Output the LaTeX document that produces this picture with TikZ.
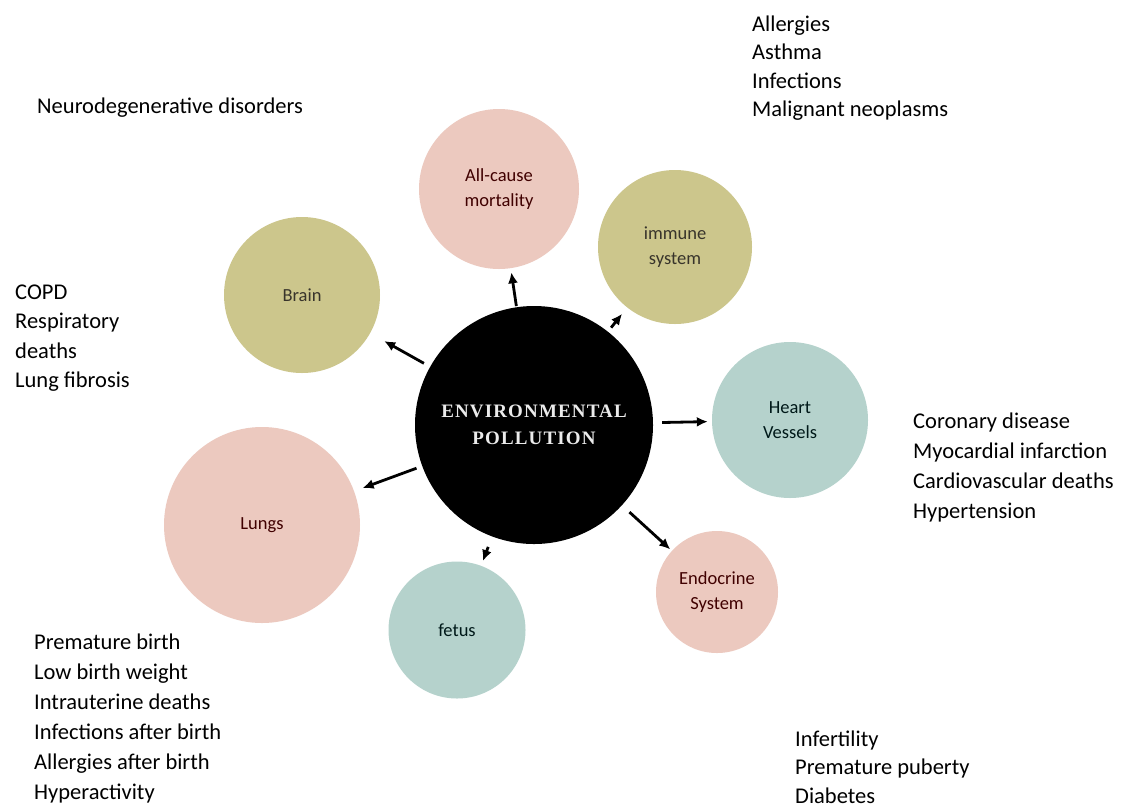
\documentclass[tikz,border=0pt]{standalone}
\usepackage{fontspec}
\setmainfont{Carlito}
\newfontfamily\titlefont[LetterSpace=6]{Liberation Serif}
\usetikzlibrary{arrows.meta, positioning}

\definecolor{organpink}{RGB}{236,201,191}
\definecolor{organolive}{RGB}{204,198,140}
\definecolor{organteal}{RGB}{181,210,204}

\begin{document}
\begin{tikzpicture}[
    x=1pt, y=-1pt,
    % node styles
    organ/.style={circle, inner sep=0pt, align=center, font=\fontsize{18.5}{25}\selectfont},
    pinkorgan/.style={organ, fill=organpink, text=black!75!red},
    oliveorgan/.style={organ, fill=organolive, text=black!80!olive},
    tealorgan/.style={organ, fill=organteal, text=black!80!teal},
    hub/.style={circle, fill=black, minimum size=238pt, inner sep=0pt, align=center, text=black!8, font=\titlefont\bfseries\fontsize{19}{27}\selectfont},
    % anchored on the baseline of the last line
    effects/.style={anchor=base west, align=left, inner sep=0pt, font=\fontsize{22.5}{29.5}\selectfont},
    arrow/.style={-{Latex[length=11pt,width=10pt]}, line width=2.8pt},
]

\fill [white] (0,0) rectangle (1121,807);
\useasboundingbox (0,0) rectangle (1121,807);

% centre
\node (hub) [hub] at (534,425) {ENVIRONMENTAL\\POLLUTION};

% organs
\node (mortality) [pinkorgan, minimum size=160pt] at (499,189) {All-cause\\mortality};
\node (immune) [oliveorgan, minimum size=154pt] at (675,247) {immune\\system};
\node (brain) [oliveorgan, minimum size=156pt] at (302,295) {Brain};
\node (heart) [tealorgan, minimum size=156pt] at (790,420) {Heart\\Vessels};
\node (endocrine) [pinkorgan, minimum size=122pt] at (717,592) {Endocrine\\System};
\node (fetus) [tealorgan, minimum size=137pt] at (457,630) {fetus};
\node (lungs) [pinkorgan, minimum size=196pt] at (262,525) {Lungs};

% effects
\node (neuro_fx) [effects] at (37,113) {Neurodegenerative disorders};
\node (immune_fx) [effects, font=\fontsize{22.5}{28.5}\selectfont] at (752,116.5) {Allergies\\Asthma\\Infections\\Malignant neoplasms};
\node (lungs_fx) [effects] at (15,387.5) {COPD\\Respiratory\\deaths\\Lung fibrosis};
\node (heart_fx) [effects, font=\fontsize{22.5}{30}\selectfont] at (913,518) {Coronary disease\\Myocardial infarction\\Cardiovascular deaths\\Hypertension};
\node (fetus_fx) [effects, font=\fontsize{22.5}{30}\selectfont] at (34,799) {Premature birth\\Low birth weight\\Intrauterine deaths\\Infections after birth\\Allergies after birth\\Hyperactivity};
\node (endocrine_fx) [effects, font=\fontsize{22.5}{28.5}\selectfont] at (795,803) {Infertility\\Premature puberty\\Diabetes};

% arrows
\draw [arrow, shorten <=1pt, shorten >=4pt] (hub) -- (mortality);
\draw [arrow, shorten <=5pt, shorten >=8pt] (hub) -- (immune);
\draw [arrow, shorten <=7pt, shorten >=16pt] (hub) -- (brain);
\draw [arrow, shorten <=9pt, shorten >=4pt] (hub) -- (heart);
\draw [arrow, shorten <=10pt, shorten >=2pt] (hub) -- (endocrine);
\draw [arrow, shorten <=11pt, shorten >=5pt] (hub) -- (fetus);
\draw [arrow, shorten <=6pt, shorten >=9pt] (hub) -- (lungs);

\end{tikzpicture}
\end{document}
